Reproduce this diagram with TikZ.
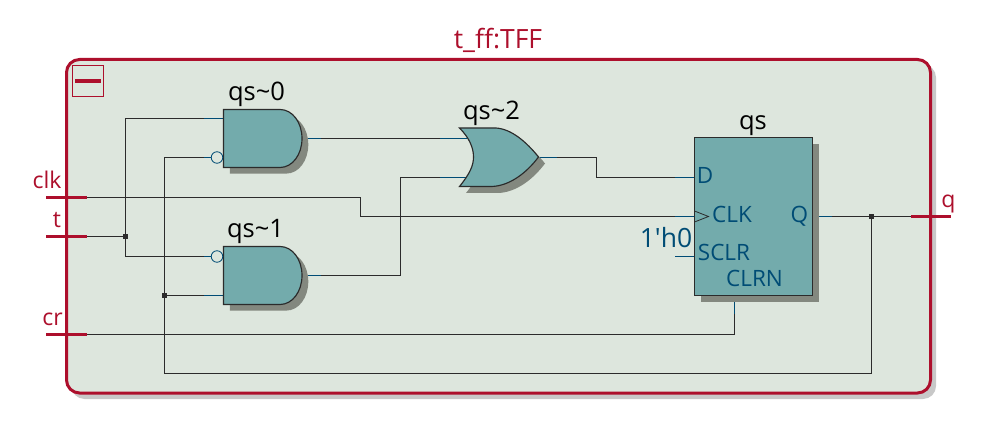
\documentclass[tikz,border=0pt]{standalone}
\usepackage{fontspec}
\setmainfont{Open Sans}
\newfontfamily\plainf{Open Sans}
\definecolor{bgc}{HTML}{DDE6DD}
\definecolor{framec}{HTML}{AD0F2C}
\definecolor{fillc}{HTML}{73ABAC}
\definecolor{shadc}{HTML}{83887F}
\definecolor{fshad}{HTML}{C8C8C8}
\definecolor{wirec}{HTML}{2B2B2B}
\definecolor{pinc}{HTML}{004C75}
\tikzset{
  wire/.style={draw=wirec,line width=1.15pt},
  stub/.style={draw=pinc,line width=1.15pt},
  portbar/.style={draw=framec,line width=3pt},
  gate/.style={draw=wirec,fill=fillc,line width=1.15pt},
  shade/.style={fill=shadc,draw=none},
  dot/.style={fill=wirec,draw=none,minimum size=5.5pt,inner sep=0pt,rectangle},
  bubble/.style={circle,draw=pinc,fill=bgc,line width=.8pt,minimum size=11.5pt,inner sep=0pt},
  txt/.style={inner sep=0pt,anchor=base},
  namelab/.style={txt,text=black,font=\fontsize{25.5}{28}\selectfont},
  pinlab/.style={txt,text=pinc,font=\fontsize{22.5}{25}\selectfont},
  portlab/.style={txt,text=framec,font=\fontsize{23}{25}\selectfont},
  ffbox/.style={rectangle,draw=wirec,fill=fillc,line width=1.15pt,minimum width=118.4pt,minimum height=158pt,inner sep=0pt},
}
\begin{document}
\begin{tikzpicture}[x=1pt,y=-1pt]
\useasboundingbox (0,0) rectangle (982,443);
\fill[white] (0,0) rectangle (982,443);
% frame
\fill[fshad,rounded corners=13pt] (71.5,64.5) rectangle (936,399);
\filldraw[fill=bgc,draw=framec,line width=3pt,rounded corners=13pt] (66.5,59.5) rectangle (930.5,393);
\node[txt,text=framec,font=\fontsize{26.5}{28}\selectfont] (title) at (498,48.5) {t\_ff:TFF};
% collapse
\draw[draw=framec,line width=1pt] (72.5,65.5) rectangle (103.5,96.5);
\draw[draw=framec,line width=4pt] (75,80.7) -- (101,80.7);
% coordinates
\coordinate (clkin) at (87,197.5);
\coordinate (tin) at (87,236.5);
\coordinate (crin) at (87,334.5);
\coordinate (a0a) at (223.5,118.5);
\coordinate (a0b) at (211,157.5);
\coordinate (a0o) at (302,138.5);
\coordinate (a1a) at (211,256.5);
\coordinate (a1b) at (223.5,295.5);
\coordinate (a1o) at (302,275.5);
\coordinate (o2a) at (466.5,138.5);
\coordinate (o2b) at (466.5,177.5);
\coordinate (o2o) at (538.5,157.5);
\coordinate (ffd) at (694.5,177.5);
\coordinate (ffclk) at (694.5,216.5);
\coordinate (ffsclr) at (694.5,256.5);
\coordinate (ffclrn) at (734.5,295.5);
\coordinate (ffq) at (812.5,216.5);
\coordinate (qout) at (911,216.5);
% wires
\node[dot] (j1) at (125.5,236.5) {};
\node[dot] (j2) at (164.5,295.5) {};
\node[dot] (j3) at (871.5,216.5) {};
\draw[wire] (tin) -- (j1);
\draw[wire] (a0a) -| (j1) |- (a1a);
\draw[wire] (a0b) -| (j2);
\draw[wire] (j2) -- (a1b);
\draw[wire] (j2) |- (871.5,373.5) -- (j3);
\draw[wire] (clkin) -- (360.5,197.5) -- (360.5,216.5) -- (ffclk);
\draw[wire] (crin) -| (ffclrn);
\draw[wire] (a0o) -- (o2a);
\draw[wire] (a1o) -- (400.5,275.5) -- (400.5,177.5) -- (o2b);
\draw[wire] (o2o) -- (596.5,157.5) -- (596.5,177.5) -- (ffd);
\draw[wire] (ffq) -- (j3);
\draw[wire] (j3) -- (qout);
% blue stubs
\draw[stub] (204,118.5) -- (a0a);
\draw[stub] (204,295.5) -- (a1b);
\draw[stub] (204,157.5) -- (a0b);
\draw[stub] (204,256.5) -- (a1a);
\draw[stub] (a0o) -- (321,138.5);
\draw[stub] (a1o) -- (321,275.5);
\draw[stub] (440,138.5) -- (o2a);
\draw[stub] (440,177.5) -- (o2b);
\draw[stub] (o2o) -- (557,157.5);
\draw[stub] (675,177.5) -- (ffd);
\draw[stub] (675,216.5) -- (ffclk);
\draw[stub] (675,256.5) -- (ffsclr);
\draw[stub] (ffq) -- (831.5,216.5);
\draw[stub] (ffclrn) -- (734.5,314.5);
% gates
\def\andpath{(0,0) -- (56.5,0) .. controls (69,0) and (78.5,13) .. (78.5,29) .. controls (78.5,45) and (69,58) .. (56.5,58) -- (0,58) -- cycle}
\def\orpath{(0,0) -- (36.5,0) .. controls (52,1) and (67,14) .. (79,29) .. controls (67,45) and (50,58) .. (32,58.5) -- (0,58.5) .. controls (10,46) and (14,38) .. (14,29) .. controls (14,20) and (10,10) .. (0,0) -- cycle}
\fill[shade,shift={(229.8,115.6)}] \andpath;
\path[gate,shift={(223.5,109.5)}] \andpath;
\fill[shade,shift={(229.8,252.6)}] \andpath;
\path[gate,shift={(223.5,246.5)}] \andpath;
\fill[shade,shift={(466,134.5)}] \orpath;
\path[gate,shift={(459.5,128)}] \orpath;
\node[bubble] (b0) at (217,157.5) {};
\node[bubble] (b1) at (217,256.5) {};
% ff
\fill[shade] (701,143.8) rectangle (819.3,301.8);
\node[ffbox] (ff) at (753.5,216.4) {};
\draw[draw=wirec,line width=.8pt] (694.5,211) -- (708.5,216.5) -- (694.5,222);
% port bars
\draw[portbar] (46,197.5) -- (clkin);
\draw[portbar] (46,236.5) -- (tin);
\draw[portbar] (46,334.5) -- (crin);
\draw[portbar] (qout) -- (951,216.5);
% labels
\node[namelab] (n0) at (256.5,101) {qs\char`\~0};
\node[namelab] (n1) at (255.5,238) {qs\char`\~1};
\node[namelab] (n2) at (491.5,120) {qs\char`\~2};
\node[namelab] (n3) at (753,129.5) {qs};
\node[pinlab] (pd) at (705,183.2) {D};
\node[pinlab] (pclk) at (732,222.2) {CLK};
\node[pinlab] (psclr) at (724,260.8) {SCLR};
\node[pinlab] (pclrn) at (754.5,286.5) {CLRN};
\node[pinlab] (pq) at (799.5,222.2) {Q};
\node[txt,text=pinc,font=\plainf\fontsize{26.5}{28}\selectfont] (pz) at (666,247.2) {1'h0};
\node[portlab] (lclk) at (47,188.2) {clk};
\node[portlab] (lt) at (57,227.5) {t};
\node[portlab] (lcr) at (52.5,325.5) {cr};
\node[portlab] (lq) at (948.5,207.5) {q};
\end{tikzpicture}
\end{document}
